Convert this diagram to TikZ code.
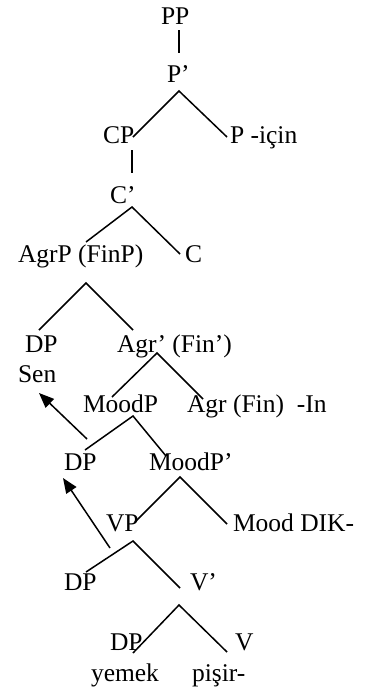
\documentclass[tikz,border=0pt]{standalone}
\usepackage{fontspec}
\setmainfont{Liberation Serif}
\usetikzlibrary{arrows.meta}
\begin{document}
\begin{tikzpicture}[x=1pt,y=-1pt,
  lbl/.style={anchor=base west,inner sep=0pt,outer sep=0pt,font=\fontsize{25.5}{30}\selectfont},
  branch/.style={line width=1.5pt},
  move/.style={line width=1.5pt,-{Triangle[length=15pt,width=12pt]}}]
\useasboundingbox[fill=white] (0,0) rectangle (368,688);
% labels
\node[lbl] (pp) at (161,24) {PP};
\node[lbl] (pbar) at (167,82) {P’};
\node[lbl] (cp) at (103,143) {CP};
\node[lbl] (p) at (230,143) {P -için};
\node[lbl] (cbar) at (110,203) {C’};
\node[lbl] (agrp) at (18,262) {AgrP (FinP)};
\node[lbl] (c) at (185,262) {C};
\node[lbl] (dp1) at (25,352) {DP};
\node[lbl] (agrbar) at (117,352) {Agr’ (Fin’)};
\node[lbl] (sen) at (18,382) {Sen};
\node[lbl] (moodp) at (83,412) {MoodP};
\node[lbl] (agr) at (187,412) {Agr (Fin)\ \ -In};
\node[lbl] (dp2) at (64,470) {DP};
\node[lbl] (moodbar) at (149,470) {MoodP’};
\node[lbl] (vp) at (106,531) {VP};
\node[lbl] (mood) at (233,531) {Mood DIK-};
\node[lbl] (dp3) at (64,590) {DP};
\node[lbl] (vbar) at (190,590) {V’};
\node[lbl] (dp4) at (110,650) {DP};
\node[lbl] (v) at (235,650) {V};
\node[lbl] (yemek) at (91,681) {yemek};
\node[lbl] (pisir) at (192,681) {pişir-};
% branch points
\coordinate (pp-b) at (179,30);
\coordinate (pbar-t) at (179,53);
\coordinate (pbar-b) at (179,91);
\coordinate (cp-t) at (133,137);
\coordinate (p-t) at (227,137);
\coordinate (cp-b) at (132,150);
\coordinate (cbar-t) at (132,173);
\coordinate (cbar-b) at (132,207);
\coordinate (agrp-t) at (86,242);
\coordinate (c-t) at (180,254);
\coordinate (agrp-b) at (86,283);
\coordinate (dp1-t) at (39,330);
\coordinate (agrbar-t) at (133,330);
\coordinate (agrbar-b) at (157,353);
\coordinate (moodp-t) at (112,397);
\coordinate (agr-t) at (203,399);
\coordinate (moodp-b) at (133,416);
\coordinate (dp2-t) at (85,450);
\coordinate (moodbar-t) at (166,456);
\coordinate (moodbar-b) at (180,477);
\coordinate (vp-t) at (135,522);
\coordinate (mood-t) at (227,524);
\coordinate (vp-b) at (133,541);
\coordinate (dp3-t) at (86,572);
\coordinate (vbar-t) at (180,588);
\coordinate (vbar-b) at (179,605);
\coordinate (dp4-t) at (133,653);
\coordinate (v-t) at (227,652);
\coordinate (mv1-s) at (87,439);
\coordinate (mv1-e) at (39,393);
\coordinate (mv2-s) at (110,548);
\coordinate (mv2-e) at (63,478);
% branches
\draw[branch] (pp-b) -- (pbar-t);
\draw[branch] (cp-t) -- (pbar-b) -- (p-t);
\draw[branch] (cp-b) -- (cbar-t);
\draw[branch] (agrp-t) -- (cbar-b) -- (c-t);
\draw[branch] (dp1-t) -- (agrp-b) -- (agrbar-t);
\draw[branch] (moodp-t) -- (agrbar-b) -- (agr-t);
\draw[branch] (dp2-t) -- (moodp-b) -- (moodbar-t);
\draw[branch] (vp-t) -- (moodbar-b) -- (mood-t);
\draw[branch] (dp3-t) -- (vp-b) -- (vbar-t);
\draw[branch] (dp4-t) -- (vbar-b) -- (v-t);
% movement arrows
\draw[move] (mv1-s) -- (mv1-e);
\draw[move] (mv2-s) -- (mv2-e);
\end{tikzpicture}
\end{document}
